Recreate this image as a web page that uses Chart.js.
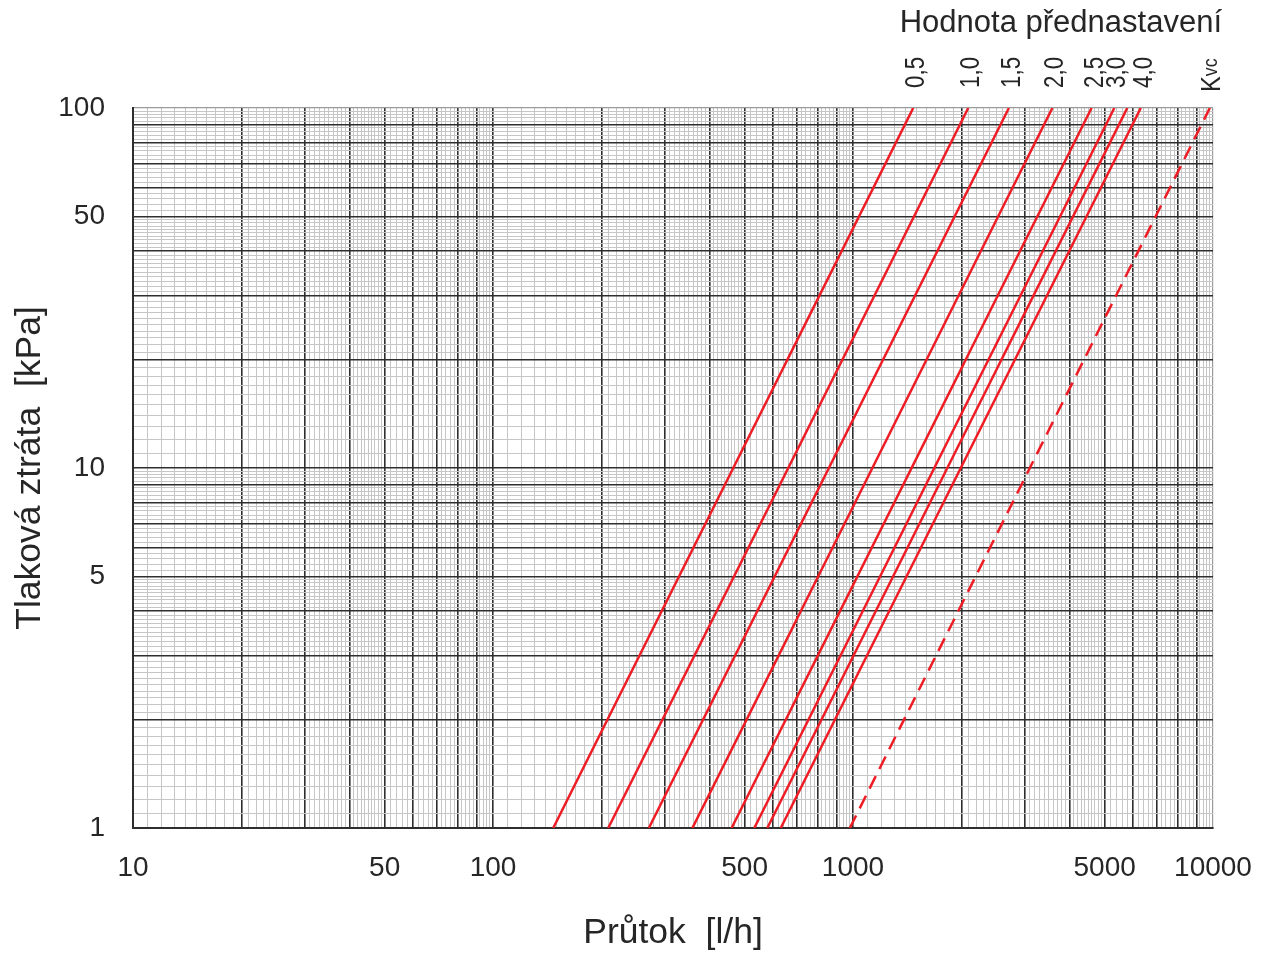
<!DOCTYPE html>
<html><head><meta charset="utf-8">
<script src="https://cdn.jsdelivr.net/npm/chart.js@4"></script>
<style>html,body{margin:0;padding:0;background:#fff}</style>
</head><body>
<canvas id="c" width="1263" height="959"></canvas>
<script>
// ---- data ----
const seriesNames  = ['0,5','1,0','1,5','2,0','2,5','3,0','3,5','4,0','Kvs'];
const topLabels    = ['0,5','1,0','1,5','2,0','2,5','3,0','','4,0','Kvc'];
const flowAt1kPa   = [147, 209, 271, 358, 460, 532, 578, 630, 980];      // l/h at 1 kPa
const flowAt100kPa = [1470, 2090, 2710, 3580, 4600, 5320, 5780, 6300, 9800]; // l/h at 100 kPa
const pressureEnds = [1, 100];                                           // kPa
const dashedFlags  = [false,false,false,false,false,false,false,false,true];
const xTickLabels  = [10, 50, 100, 500, 1000, 5000, 10000];
const yTickLabels  = [1, 5, 10, 50, 100];
const xRange = [10, 10000];
const yRange = [1, 100];
const topTitle = 'Hodnota přednastavení';
const xTitle = 'Průtok  [l/h]';
const yTitle = 'Tlaková ztráta  [kPa]';

// ---- helpers ----
function logGridTicks(minVal, maxVal) {
  const out = [];
  const e0 = Math.round(Math.log10(minVal)), e1 = Math.round(Math.log10(maxVal));
  for (let e = e0; e < e1; e++) {
    const unit = Math.pow(10, e - 1);
    for (let k = 10; k < 50; k++) out.push({value: k * unit, dark: k % 10 === 0});
    for (let k = 50; k < 100; k += 2) out.push({value: k * unit, dark: k % 10 === 0});
  }
  out.push({value: Math.pow(10, e1), dark: true, edge: true});
  return out;
}
function near(a, b) { return Math.abs(a - b) / b < 1e-6; }
const gridColor = (c) => { const t = c.tick || {}; return t.edge ? '#9a9a9a' : (t.dark ? '#2e2e2e' : '#c6c6c6'); };
const gridWidth = (c) => { const t = c.tick || {}; return t.edge ? 1.2 : (t.dark ? 1.6 : 1); };

const FONT = '"Liberation Sans", Arial, sans-serif';
const TXT = '#262626';

const datasets = seriesNames.map((n, i) => ({
  label: n,
  data: [{x: flowAt1kPa[i], y: pressureEnds[0]}, {x: flowAt100kPa[i], y: pressureEnds[1]}],
  borderColor: '#ee1d25',
  borderWidth: 2.5,
  borderDash: dashedFlags[i] ? [14, 8] : [],
  pointRadius: 0,
  fill: false,
  tension: 0
}));

const topLabelsPlugin = {
  id: 'topLabels',
  afterDraw(chart) {
    const ctx = chart.ctx, xs = chart.scales.x, area = chart.chartArea;
    ctx.save();
    ctx.fillStyle = TXT;
    ctx.font = '31px ' + FONT;
    ctx.textAlign = 'right';
    ctx.textBaseline = 'alphabetic';
    ctx.fillText(topTitle, area.right + 9, area.top - 76);
    topLabels.forEach((lab, i) => {
      if (!lab) return;
      const px = xs.getPixelForValue(flowAt100kPa[i]);
      ctx.save();
      ctx.textAlign = 'left';
      ctx.textBaseline = 'alphabetic';
      if (lab === 'Kvc') {
        ctx.translate(px + 10, area.top - 16);
        ctx.rotate(-Math.PI / 2);
        ctx.scale(0.85, 1);
        ctx.font = '28px ' + FONT;
        ctx.fillText('K', 0, 0);
        const w = ctx.measureText('K').width;
        ctx.font = '21px ' + FONT;
        ctx.fillText('vc', w, -3);
      } else {
        ctx.translate(px + 11, area.top - 20);
        ctx.rotate(-Math.PI / 2);
        ctx.scale(0.8, 1);
        ctx.font = '28px ' + FONT;
        ctx.fillText(lab, 0, 0);
      }
      ctx.restore();
    });
    ctx.restore();
  }
};

new Chart(document.getElementById('c'), {
  type: 'line',
  data: {datasets},
  options: {
    responsive: false,
    devicePixelRatio: 1,
    animation: false,
    layout: {padding: {top: 108, right: 50, left: 0, bottom: 0}},
    plugins: {legend: {display: false}, tooltip: {enabled: false}},
    scales: {
      x: {
        type: 'logarithmic',
        min: xRange[0], max: xRange[1],
        afterBuildTicks: (s) => { s.ticks = logGridTicks(xRange[0], xRange[1]); },
        afterFit: (s) => { s.height = 131; s.paddingLeft = 0; s.paddingRight = 0; },
        grid: {color: gridColor, lineWidth: gridWidth, drawTicks: false},
        border: {display: true, color: '#2e2e2e', width: 2},
        ticks: {
          autoSkip: false, maxRotation: 0, padding: 23,
          color: TXT, font: {family: FONT, size: 28},
          callback: (v) => { const f = xTickLabels.find(t => near(v, t)); return f !== undefined ? String(f) : ''; }
        },
        title: {display: true, text: xTitle, color: TXT, font: {family: FONT, size: 35.5}, padding: {top: 0, bottom: 4}}
      },
      y: {
        type: 'logarithmic',
        min: yRange[0], max: yRange[1],
        afterBuildTicks: (s) => { s.ticks = logGridTicks(yRange[0], yRange[1]); },
        afterFit: (s) => { s.width = 133; s.paddingTop = 0; s.paddingBottom = 0; },
        grid: {color: gridColor, lineWidth: gridWidth, drawTicks: false},
        border: {display: true, color: '#2e2e2e', width: 2},
        ticks: {
          autoSkip: false, padding: 28,
          color: TXT, font: {family: FONT, size: 28},
          callback: (v) => { const f = yTickLabels.find(t => near(v, t)); return f !== undefined ? String(f) : ''; }
        },
        title: {display: true, text: yTitle, color: TXT, font: {family: FONT, size: 35.5}, padding: {top: 9, bottom: 0}}
      }
    }
  },
  plugins: [topLabelsPlugin]
});
</script>
</body></html>
